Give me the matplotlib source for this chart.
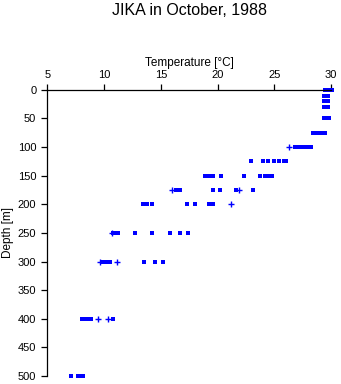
import numpy as np
import matplotlib
matplotlib.use("Agg")
from matplotlib import pyplot as plt

plt.rcParams['font.family'] = ['Liberation Sans', 'DejaVu Sans']

depths = [0, 10, 20, 30, 50, 75, 100, 125, 150, 175, 200, 250, 300, 400, 500]
temps_sq = [
    [29.5, 29.6, 29.7, 29.8, 29.9, 30.0, 30.1],
    [29.35, 29.45, 29.55, 29.65, 29.75],
    [29.35, 29.45, 29.55, 29.65, 29.75],
    [29.35, 29.45, 29.55, 29.65, 29.75],
    [29.35, 29.45, 29.55, 29.65, 29.75, 29.85],
    [28.4, 28.5, 28.6, 28.7, 28.8, 28.9, 29.0, 29.1, 29.2, 29.3, 29.4, 29.5],
    [26.85, 26.95, 27.1, 27.2, 27.3, 27.4, 27.5, 27.6, 27.7, 27.8, 27.9, 28.0, 28.1, 28.2],
    [22.9, 24.0, 24.4, 25.0, 25.4, 25.85, 26.0],
    [18.85, 18.95, 19.05, 19.15, 19.25, 19.6, 20.3, 22.35, 23.75, 24.2, 24.35, 24.5, 24.65, 24.75],
    [16.35, 16.5, 16.65, 19.6, 20.2, 21.6, 23.1],
    [13.45, 13.8, 14.2, 17.3, 18.0, 19.25, 19.4, 19.55],
    [10.8, 10.95, 11.1, 11.25, 12.7, 14.2, 15.8, 16.7, 17.4],
    [9.9, 10.0, 10.15, 10.5, 13.5, 14.5, 15.2],
    [8.05, 8.2, 8.35, 8.5, 8.65, 8.85, 10.8],
    [7.05, 7.7, 7.8, 7.9, 8.0, 8.15],
]
# readings drawn with a cross symbol
cross_depths = [100, 175, 175, 200, 250, 300, 300, 400, 400]
cross_temps = [26.3, 16.0, 21.9, 21.2, 10.65, 9.6, 11.1, 9.5, 10.3]

xticks = [5, 10, 15, 20, 25, 30]
yticks = [0, 50, 100, 150, 200, 250, 300, 350, 400, 450, 500]

fig = plt.figure(figsize=(3.41, 3.84), dpi=100)
ax = fig.add_axes([0.139, 0.021, 0.832, 0.745])

for d, ts in zip(depths, temps_sq):
    ax.plot(ts, [d] * len(ts), 's', color='#0000ff', markersize=2.2,
            markeredgewidth=0, clip_on=False)
ax.plot(cross_temps, cross_depths, '+', color='#0000ff', markersize=4,
        markeredgewidth=1.0, clip_on=False)

ax.set_xlim(5, 30)
ax.set_ylim(500, 0)
ax.set_xticks(xticks)
ax.set_yticks(yticks)

ax.xaxis.set_ticks_position('top')
ax.xaxis.set_label_position('top')
for s in ['right', 'bottom']:
    ax.spines[s].set_visible(False)
for s in ['left', 'top']:
    ax.spines[s].set_linewidth(0.9)
ax.tick_params(direction='out', length=4, width=0.9, labelsize=8)
ax.tick_params(axis='y', pad=4)
ax.tick_params(axis='x', pad=3)

ax.set_xlabel('Temperature [°C]', fontsize=8.5, labelpad=3)
ax.set_ylabel('Depth [m]', fontsize=8.5, labelpad=3)

fig.text(0.556, 0.973, 'JIKA in October, 1988', ha='center', va='center',
         fontsize=11.5)

fig.savefig('out.png', dpi=100)
